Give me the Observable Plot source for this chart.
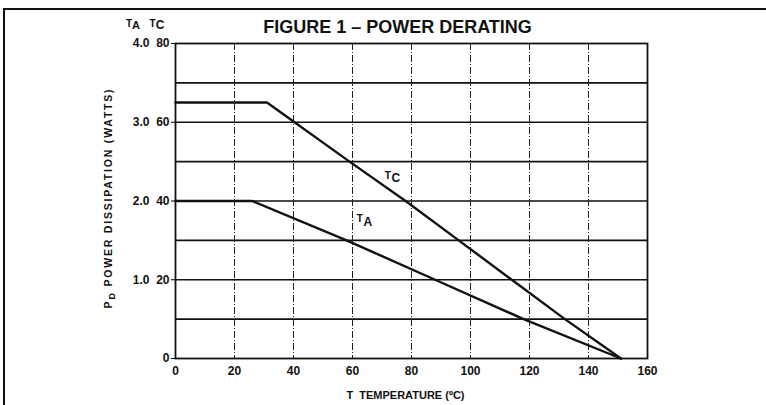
<!DOCTYPE html>
<html>
<head>
<meta charset="utf-8">
<script src="https://cdn.jsdelivr.net/npm/d3@7"></script>
<script src="https://cdn.jsdelivr.net/npm/@observablehq/plot@0.6"></script>
<style>
  html, body { margin: 0; padding: 0; background: #fff; }
  #wrap { position: relative; width: 766px; height: 405px; overflow: hidden; }
  #border { position: absolute; left: 3px; top: 8px; width: 800px; height: 500px;
            border-left: 2px solid #111; border-top: 2px solid #111; }
  #chart { position: absolute; left: 0; top: 0; }
  svg text { font-family: "Liberation Sans", Arial, sans-serif; font-weight: bold; fill: #111; }
</style>
</head>
<body>
<div id="wrap"><div id="border"></div><div id="chart"></div></div>
<script>
// Temperature (°C) tick values
const xTicks = [0, 20, 40, 60, 80, 100, 120, 140, 160];
// Case-temperature power scale (watts) ticks and grid
const tcTicks = [0, 20, 40, 60, 80];
const yGrid = [10, 20, 30, 40, 50, 60, 70];
const xGrid = [20, 40, 60, 80, 100, 120, 140];
// Ambient scale labels (watts), aligned to the Tc ticks 20..80
const taTickLabels = ["1.0", "2.0", "3.0", "4.0"];

// T_C curve: temperature (°C) vs power (W)
const tcTemp  = [0, 31, 59, 78, 96, 114, 132, 151];
const tcPower = [65, 65, 50, 40, 30, 20, 10, 0];
// T_A curve: temperature (°C) vs power (W, ambient scale 0..4)
const taTemp  = [0, 26, 58, 88, 118, 151];
const taPower = [2.0, 2.0, 1.5, 1.0, 0.5, 0];
// Ambient scale / case scale ratio
const taFactor = 20;

// Curve labels (temperature, case-scale watts)
const curveLabels = [
  {temp: 72, power: 46.5, sub: "C"},
  {temp: 62.5, power: 35.5, sub: "A"}
];

const tc = tcTemp.map((t, i) => ({t, p: tcPower[i]}));
const ta = taTemp.map((t, i) => ({t, p: taPower[i] * taFactor}));

const chart = Plot.plot({
  width: 766,
  height: 405,
  marginLeft: 175,
  marginRight: 119,
  marginTop: 43,
  marginBottom: 47,
  style: {background: "transparent", fontFamily: "Liberation Sans, Arial, sans-serif"},
  x: {domain: [0, 160]},
  y: {domain: [0, 80]},
  marks: [
    Plot.ruleY(yGrid, {stroke: "#111", strokeWidth: 1.6}),
    Plot.ruleX(xGrid, {stroke: "#222", strokeWidth: 1, strokeDasharray: "7,2,1,2"}),
    Plot.frame({stroke: "#111", strokeWidth: 1.8}),
    Plot.line(tc, {x: "t", y: "p", stroke: "#111", strokeWidth: 2.4}),
    Plot.line(ta, {x: "t", y: "p", stroke: "#111", strokeWidth: 2.4}),
    Plot.axisX({ticks: xTicks, tickSize: 0, tickPadding: 8, label: null,
                fontSize: 12, fontWeight: "bold"}),
    Plot.axisY({ticks: tcTicks, tickSize: 4, tickPadding: 2, label: null,
                fontSize: 12, fontWeight: "bold"}),
    Plot.axisY({ticks: [20, 40, 60, 80], tickSize: 0, tickPadding: 26, label: null,
                tickFormat: (d) => taTickLabels[d / 20 - 1], fontSize: 12, fontWeight: "bold"}),
    Plot.text(["FIGURE 1 – POWER DERATING"], {frameAnchor: "top", dx: -14, dy: -16,
                lineAnchor: "middle", fontSize: 18, fontWeight: "bold", letterSpacing: 0.3}),
    Plot.text(["T  TEMPERATURE (ºC)"], {frameAnchor: "bottom", dx: -6, dy: 37,
                lineAnchor: "middle", fontSize: 11, fontWeight: "bold", letterSpacing: 1.5}),
    Plot.text(curveLabels, {x: "temp", y: "power", text: () => "T", fontSize: 10, fontWeight: "bold"}),
    Plot.text(curveLabels, {x: "temp", y: "power", text: "sub", dx: 8, dy: 3, fontSize: 12, fontWeight: "bold"})
  ]
});
document.getElementById("chart").appendChild(chart);

const svg = d3.select(chart);
// Header above tick columns: T_A  T_C
const head = svg.append("text").attr("x", 133).attr("y", 27).attr("font-size", 10);
head.append("tspan").text("T");
head.append("tspan").attr("dy", 2).attr("font-size", 11).text("A");
const head2 = svg.append("text").attr("x", 157).attr("y", 27).attr("font-size", 10);
head2.append("tspan").text("T");
head2.append("tspan").attr("dy", 2).attr("font-size", 12).text("C");

// Y axis title: P_D POWER DISSIPATION (WATTS)
const yl = svg.append("text")
  .attr("transform", "translate(112,198) rotate(-90)")
  .attr("text-anchor", "middle")
  .attr("font-size", 10.5)
  .attr("letter-spacing", 1.8);
yl.append("tspan").text("P");
yl.append("tspan").attr("dy", 3).attr("font-size", 9).text("D");
yl.append("tspan").attr("dy", -3).text(" POWER DISSIPATION (WATTS)");
</script>
</body>
</html>
